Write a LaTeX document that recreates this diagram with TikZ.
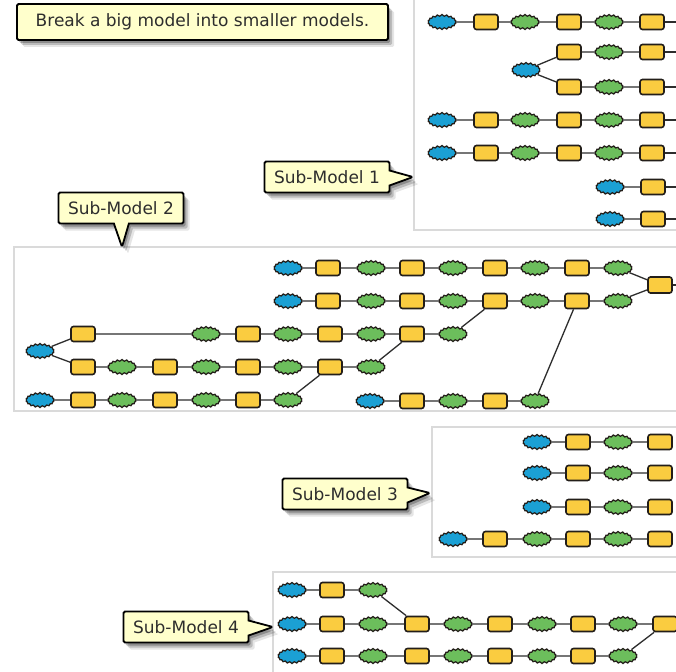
\documentclass[tikz,border=0pt]{standalone}
\usepackage{fontspec}
\newfontfamily\notefont{DejaVu Sans}
\usetikzlibrary{shapes.symbols,shapes.callouts,shadows}

\definecolor{srcblue}{RGB}{27,160,212}
\definecolor{datgreen}{RGB}{108,190,92}
\definecolor{toolyellow}{RGB}{250,204,64}
\definecolor{edgedark}{RGB}{35,30,25}
\definecolor{linkgray}{RGB}{45,45,45}
\definecolor{notefill}{RGB}{255,255,204}
\definecolor{notetext}{RGB}{45,45,45}
\definecolor{panelgray}{RGB}{218,218,218}

\tikzset{
  x=1pt, y=-1pt,
  blob/.style={cloud, cloud puffs=18, cloud puff arc=150, aspect=2,
    draw=edgedark, line width=1.2pt, minimum width=28pt, minimum height=15pt,
    inner sep=0pt},
  src/.style={blob, fill=srcblue},
  dat/.style={blob, fill=datgreen},
  tool/.style={rectangle, rounded corners=2.5pt, fill=toolyellow, draw=edgedark,
    line width=1.6pt, minimum width=24pt, minimum height=15pt, inner sep=0pt},
  link/.style={draw=linkgray, line width=1.3pt},
  panel/.style={draw=panelgray, line width=2pt, fill=white},
  softshadow/.style={
    drop shadow={shadow xshift=2pt, shadow yshift=-3pt, opacity=0.25, fill=black},
    drop shadow={shadow xshift=4pt, shadow yshift=-5pt, opacity=0.18, fill=black},
    drop shadow={shadow xshift=6pt, shadow yshift=-7pt, opacity=0.10, fill=black}},
  note/.style={rectangle, rounded corners=1.5pt, fill=notefill, draw=black,
    line width=1.8pt, text=notetext, font=\notefont\fontsize{17}{20}\selectfont,
    inner sep=0pt, softshadow},
  subnote/.style={rectangle callout, rounded corners=1.5pt, fill=notefill, draw=black,
    line width=1.8pt, text=notetext, font=\notefont\fontsize{17}{20}\selectfont,
    minimum width=125pt, minimum height=31pt, inner sep=0pt,
    callout pointer width=15pt, softshadow},
}

% one chain of model elements: #1 name prefix, #2 row y, #3 list of style/x
\newcommand\modelrow[3]{%
  \foreach \st/\xx [count=\k, remember=\k as \kp (initially 0)] in {#3}{%
    \node[\st] (#1-\k) at (\xx,#2) {};
    \ifnum\k>1 \draw[link] (#1-\kp) -- (#1-\k);\fi
  }}

\begin{document}
\begin{tikzpicture}
\useasboundingbox (0,0) rectangle (676,671);
\clip (0,0) rectangle (676,671);
\fill[white] (0,0) rectangle (676,671);

% ---------- panels ----------
\path[panel] (414,-10) rectangle (690,230);
\path[panel] (14,247) rectangle (690,411);
\path[panel] (432,427) rectangle (690,557);
\path[panel] (273,572) rectangle (690,690);

% ---------- sub-model 1 ----------
\modelrow{a}{22}{src/442,tool/486,dat/525,tool/569,dat/609,tool/652,coordinate/680}
\node[src] (ab) at (526,70) {};
\modelrow{au}{52}{tool/569,dat/609,tool/652,coordinate/680}
\modelrow{al}{87}{tool/569,dat/609,tool/652,coordinate/680}
\draw[link] (ab) -- (au-1);
\draw[link] (ab) -- (al-1);
\modelrow{ac}{120}{src/442,tool/486,dat/525,tool/569,dat/609,tool/652,coordinate/680}
\modelrow{ad}{153}{src/442,tool/486,dat/525,tool/569,dat/609,tool/652,coordinate/680}
\modelrow{ae}{187}{src/610,tool/653,coordinate/680}
\modelrow{af}{219}{src/610,tool/653,coordinate/680}

% ---------- sub-model 2 ----------
\node[tool, minimum height=16pt] (merge) at (660,285) {};
\coordinate (mergeout) at (680,285);
\draw[link] (merge) -- (mergeout);
\modelrow{b}{268}{src/288,tool/328,dat/371,tool/412,dat/453,tool/495,dat/535,tool/577,dat/618}
\modelrow{c}{301}{src/288,tool/328,dat/371,tool/412,dat/453,tool/495,dat/535,tool/577,dat/618}
\draw[link] (b-9) -- (merge);
\draw[link] (c-9) -- (merge);
\node[src] (bm) at (40,351) {};
\modelrow{d}{334}{tool/83,dat/206,tool/248,dat/288,tool/330,dat/371,tool/412,dat/453}
\modelrow{e}{367}{tool/83,dat/122,tool/165,dat/206,tool/248,dat/288,tool/330,dat/371}
\draw[link] (bm) -- (d-1);
\draw[link] (bm) -- (e-1);
\draw[link] (d-8) -- (c-6);
\draw[link] (e-8) -- (d-7);
\modelrow{f}{400}{src/40,tool/83,dat/122,tool/165,dat/206,tool/248,dat/288}
\draw[link] (f-7) -- (e-7);
\modelrow{g}{401}{src/370,tool/412,dat/453,tool/495,dat/535}
\draw[link] (g-5) -- (c-8);

% ---------- sub-model 3 ----------
\modelrow{h}{442}{src/537,tool/578,dat/618,tool/660}
\modelrow{i}{473}{src/537,tool/578,dat/618,tool/660}
\modelrow{j}{507}{src/537,tool/578,dat/618,tool/660}
\modelrow{k}{539}{src/453,tool/495,dat/537,tool/578,dat/618,tool/660}

% ---------- sub-model 4 ----------
\modelrow{m}{624}{src/292,tool/332,dat/373,tool/417,dat/458,tool/500,dat/542,tool/583,dat/623,tool/665}
\modelrow{l}{590}{src/292,tool/332,dat/373}
\modelrow{n}{656}{src/292,tool/332,dat/373,tool/417,dat/458,tool/500,dat/542,tool/583,dat/623}
\draw[link] (l-3) -- (m-4);
\draw[link] (n-9) -- (m-10);

% ---------- notes ----------
\node[note, minimum width=371pt, minimum height=36pt] (title) at (202.5,22)
  {Break a big model into smaller models.};
\node[subnote, callout absolute pointer={(413,177)}] (sm1) at (327,177) {Sub-Model 1};
\node[subnote, callout absolute pointer={(122,247)}] (sm2) at (121,208) {Sub-Model 2};
\node[subnote, callout absolute pointer={(430,493)}] (sm3) at (345,494) {Sub-Model 3};
\node[subnote, callout absolute pointer={(273,627)}] (sm4) at (186,627) {Sub-Model 4};
\end{tikzpicture}
\end{document}
